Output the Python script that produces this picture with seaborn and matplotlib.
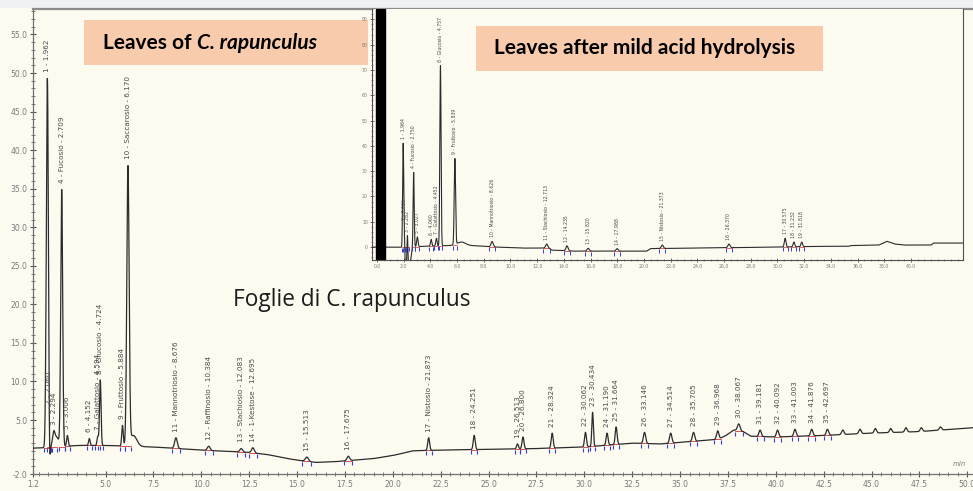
import numpy as np
import pandas as pd
import matplotlib
matplotlib.use("Agg")
import matplotlib.pyplot as plt
import seaborn as sns
from matplotlib.patches import Rectangle
from matplotlib.ticker import MultipleLocator

# ---------------- data ----------------
# Main chromatogram (Foglie di C. rapunculus)
main_rt = [1.962, 2.060, 2.294, 2.709, 3.006, 4.152, 4.594, 4.724, 5.884, 6.170,
           8.676, 10.384, 12.083, 12.695, 15.513, 17.675, 21.873, 24.251, 26.513, 26.800,
           28.324, 30.062, 30.434, 31.190, 31.664, 33.146, 34.514, 35.705, 36.968, 38.067,
           39.181, 40.092, 41.003, 41.876, 42.697]
main_apex = [49.3, 6.3, 3.6, 34.9, 3.0, 2.6, 2.9, 10.2, 4.3, 38.0,
             2.7, 1.6, 1.3, 1.4, 0.2, 0.3, 2.7, 3.0, 1.9, 2.8,
             3.3, 3.4, 6.0, 3.3, 4.1, 3.4, 3.3, 3.4, 3.6, 4.5,
             3.7, 3.7, 3.8, 3.8, 3.8]
main_sigma = [0.055, 0.040, 0.050, 0.050, 0.040, 0.040, 0.040, 0.040, 0.040, 0.060,
              0.070, 0.070, 0.070, 0.070, 0.080, 0.070, 0.050, 0.050, 0.050, 0.050,
              0.050, 0.050, 0.040, 0.050, 0.050, 0.060, 0.060, 0.060, 0.060, 0.070,
              0.060, 0.060, 0.060, 0.060, 0.060]
main_labels = ["1 - 1.962", "2 - 2.060", "3 - 2.294", "4 - Fucosio - 2.709", "5 - 3.006",
               "6 - 4.152", "7 - Galattosio - 4.594", "8 - Glucosio - 4.724",
               "9 - Fruttosio - 5.884", "10 - Saccarosio - 6.170",
               "11 - Mannotriosio - 8.676", "12 - Raffinosio - 10.384",
               "13 - Stachiosio - 12.083", "14 - 1-Kestose - 12.695", "15 - 15.513",
               "16 - 17.675", "17 - Nistosio - 21.873", "18 - 24.251", "19 - 26.513",
               "20 - 26.800", "21 - 28.324", "22 - 30.062", "23 - 30.434", "24 - 31.190",
               "25 - 31.664", "26 - 33.146", "27 - 34.514", "28 - 35.705", "29 - 36.968",
               "30 - 38.067", "31 - 39.181", "32 - 40.092", "33 - 41.003", "34 - 41.876",
               "35 - 42.697"]
# unlabeled tails / small bumps
main_extra_rt = [2.400, 6.450, 43.5, 44.4, 45.2, 46.0, 46.8, 47.6, 48.6]
main_extra_apex = [3.0, 3.0, 3.7, 3.8, 3.9, 3.9, 4.0, 4.0, 4.1]
main_extra_sigma = [0.15, 0.18, 0.06, 0.06, 0.06, 0.06, 0.06, 0.06, 0.06]
# baseline of the main trace
main_base_t = [1.2, 1.8, 3.5, 5.0, 7.5, 10.0, 12.5, 13.5, 14.5, 15.0, 16.0, 17.0, 18.0, 19.0,
               20.0, 20.9, 21.0, 22.5, 25.0, 27.5, 30.0, 32.5, 34.0, 35.0, 36.0, 37.0, 37.4,
               37.8, 38.3, 38.7, 40.0, 42.5, 45.0, 47.5, 50.3]
main_base_v = [1.35, 1.4, 1.7, 1.7, 1.5, 1.1, 0.8, 0.5, 0.0, -0.2, -0.5, -0.4, -0.2, 0.0,
               0.4, 0.9, 1.0, 1.1, 1.2, 1.3, 1.5, 2.0, 1.9, 2.1, 2.3, 2.5, 3.0,
               3.7, 3.5, 2.9, 2.8, 3.0, 3.3, 3.5, 4.0]
main_xticks = [1.2, 5.0, 7.5, 10.0, 12.5, 15.0, 17.5, 20.0, 22.5, 25.0, 27.5, 30.0, 32.5,
               35.0, 37.5, 40.0, 42.5, 45.0, 47.5, 50.0]
main_yticks = [-2.0, 5.0, 10.0, 15.0, 20.0, 25.0, 30.0, 35.0, 40.0, 45.0, 50.0, 55.0]

# Inset chromatogram (leaves after mild acid hydrolysis)
ins_rt = [1.964, 2.046, 2.282, 2.750, 3.027, 4.060, 4.452, 4.757, 5.839, 8.626,
          12.713, 14.235, 15.820, 17.988, 21.373, 26.370, 30.575, 31.232, 31.818]
ins_apex = [41.0, 9.0, 4.5, 29.5, 4.0, 3.0, 3.5, 71.7, 35.0, 2.2,
            1.2, 0.5, -0.5, -0.6, 0.8, 1.2, 3.5, 2.0, 2.0]
ins_sigma = [0.04, 0.04, 0.05, 0.04, 0.05, 0.05, 0.05, 0.045, 0.05, 0.08,
             0.08, 0.08, 0.08, 0.08, 0.08, 0.08, 0.06, 0.06, 0.06]
ins_labels = ["1 - 1.964", "2 - 2.046", "3 - 2.282", "4 - Fucosio - 2.750", "5 - 3.027",
              "6 - 4.060", "7 - Galattosio - 4.452", "8 - Glucosio - 4.757",
              "9 - Fruttosio - 5.839", "10 - Mannotriosio - 8.626",
              "11 - Stachiosio - 12.713", "12 - 14.235", "13 - 15.820", "14 - 17.988",
              "15 - Nistosio - 21.373", "16 - 26.370", "17 - 30.575", "18 - 31.232",
              "19 - 31.818"]
ins_extra_rt = [2.300, 6.300]
ins_extra_apex = [3.0, 2.0]
ins_extra_sigma = [0.15, 0.3]
ins_base_t = [-0.4, 1.8, 6.5, 9.0, 10.9, 12.9, 13.1, 14.8, 19.0, 20.2, 20.5, 30.0, 33.0,
              35.3, 35.5, 37.6, 38.2, 38.8, 39.5, 41.5, 41.7, 44.0]
ins_base_v = [0.0, 0.0, 0.8, 0.0, -0.4, -0.4, -1.2, -1.6, -1.6, -1.6, -0.6, 0.0, 0.3,
              0.3, 0.6, 0.8, 2.3, 1.2, 0.8, 0.8, 1.6, 1.6]
ins_solvent = (-0.07, 0.6)
ins_xticks = [0.0, 2.0, 4.0, 6.0, 8.0, 10.0, 12.0, 14.0, 16.0, 18.0, 20.0, 22.0, 24.0,
              26.0, 28.0, 30.0, 32.0, 34.0, 36.0, 38.0, 40.0]
ins_yticks = [0, 10, 20, 30, 40, 50, 60, 70, 80, 90]

title_main = "Foglie di C. rapunculus"
box1_parts = ["Leaves of ", "C. rapunculus"]
box2_text = "Leaves after mild acid hydrolysis"


# ---------------- helpers ----------------
def trace(grid, rts, apexes, sigmas, bt, bv):
    """Baseline through read knots + Gaussian peaks whose summed apex equals the read value."""
    rts = np.asarray(rts, float)
    sig = np.asarray(sigmas, float)
    target = np.asarray(apexes, float) - np.interp(rts, bt, bv)
    A = np.exp(-0.5 * ((rts[:, None] - rts[None, :]) / sig[None, :]) ** 2)
    amps = np.linalg.solve(A, target)
    y = np.interp(grid, bt, bv)
    for r, a, s in zip(rts, amps, sig):
        y = y + a * np.exp(-0.5 * ((grid - r) / s) ** 2)
    return y


BG = "#fdfaf0"
LINE = "#2b2b2b"
GREY = "#7a7a7a"
PEACH = "#f8cbad"

sns.set_style("white")
plt.rcParams["font.family"] = ["DejaVu Sans"]

W, H = 973, 491
fig = plt.figure(figsize=(W / 100, H / 100), dpi=100, facecolor=BG)


def fx(px):
    return px / W


def fy(py):
    return 1 - py / H


# ---------------- main axes ----------------
left_px, right_px, top_px, bot_px = 32.8, 973, 9, 474
ax = fig.add_axes([fx(left_px), fy(bot_px), fx(right_px - left_px), (bot_px - top_px) / H])
ax.set_facecolor(BG)

grid = np.arange(1.2, 50.3, 0.004)
sig = trace(grid, list(main_rt) + main_extra_rt, list(main_apex) + main_extra_apex,
            list(main_sigma) + main_extra_sigma, main_base_t, main_base_v)
df = pd.DataFrame({"t": grid, "signal": sig})
sns.lineplot(data=df, x="t", y="signal", ax=ax, color=LINE, linewidth=0.9,
             estimator=None, sort=False, zorder=3)

# integration marks
for r, s in zip(main_rt, main_sigma):
    b = np.interp(r, main_base_t, main_base_v)
    ax.plot([r - 3 * s, r + 3 * s], [b, b], color="#e05050", lw=0.7, zorder=2)
    ax.plot([r - 3 * s, r + 3 * s], [b - 0.35, b - 0.35], ls="none", marker="|",
            ms=3.5, color="#3340d0", mew=0.8, zorder=4)

for r, a, lab in zip(main_rt, main_apex, main_labels):
    ax.text(r, a + 0.8, lab, rotation=90, ha="center", va="bottom",
            fontsize=5.2, color="#4a4a4a", zorder=5)

ax.set_xlim(1.2, 50.3)
ax.set_ylim(-2.0, 58.3)
ax.set_xticks(main_xticks)
ax.set_xticklabels([f"{v:.1f}" for v in main_xticks])
ax.set_yticks(main_yticks)
ax.set_yticklabels([f"{v:.1f}" for v in main_yticks])
ax.xaxis.set_minor_locator(MultipleLocator(0.5))
ax.yaxis.set_minor_locator(MultipleLocator(1.0))
ax.tick_params(axis="both", which="major", labelsize=5.5, labelcolor=GREY,
               color="#555555", length=4, width=0.8, direction="inout", pad=2)
ax.tick_params(axis="both", which="minor", color="#666666", length=2.5, width=0.6,
               direction="inout")
ax.tick_params(axis="x", which="both", bottom=True)
ax.tick_params(axis="y", which="both", left=True)
ax.set_xlabel("")
ax.set_ylabel("")
ax.spines["right"].set_visible(False)
ax.spines["top"].set_color("#8c8c8c")
ax.spines["top"].set_linewidth(1.6)
for sp in ["left", "bottom"]:
    ax.spines[sp].set_color("#707070")
    ax.spines[sp].set_linewidth(0.9)
ax.text(0.993, 0.015, "min", transform=ax.transAxes, fontsize=5, color=GREY,
        style="italic", ha="right", va="bottom")

ax.text(fx(233), fy(300), title_main, transform=fig.transFigure, fontsize=16.3,
        family="Open Sans", color="#1c1c1c", ha="left", va="center")

# ---------------- inset axes ----------------
il, ir, it, ib = 372, 963, 9, 260
axi = fig.add_axes([fx(il), fy(ib), fx(ir - il), (ib - it) / H], zorder=5)
axi.set_facecolor(BG)
g2 = np.arange(-0.37, 43.9, 0.004)
s2 = trace(g2, list(ins_rt) + ins_extra_rt, list(ins_apex) + ins_extra_apex,
           list(ins_sigma) + ins_extra_sigma, ins_base_t, ins_base_v)
df2 = pd.DataFrame({"t": g2, "signal": s2})
sns.lineplot(data=df2, x="t", y="signal", ax=axi, color=LINE, linewidth=0.8,
             estimator=None, sort=False, zorder=3)
axi.axvspan(ins_solvent[0], ins_solvent[1], color="black", zorder=4)
for r, s in zip(ins_rt, ins_sigma):
    b = np.interp(r, ins_base_t, ins_base_v)
    axi.plot([r - 3 * s, r + 3 * s], [b, b], color="#e05050", lw=0.6, zorder=2)
    axi.plot([r - 3 * s, r + 3 * s], [b - 1.0, b - 1.0], ls="none", marker="|",
             ms=2.5, color="#3340d0", mew=0.7, zorder=4)
for r, a, lab in zip(ins_rt, ins_apex, ins_labels):
    axi.text(r, a + 1.6, lab, rotation=90, ha="center", va="bottom",
             fontsize=3.3, color="#4a4a4a", zorder=5)
axi.set_xlim(-0.37, 43.9)
axi.set_ylim(-5.1, 94.1)
axi.set_xticks(ins_xticks)
axi.set_xticklabels([f"{v:.1f}" for v in ins_xticks])
axi.set_yticks(ins_yticks)
axi.set_yticklabels([str(v) for v in ins_yticks])
axi.xaxis.set_minor_locator(MultipleLocator(0.5))
axi.yaxis.set_minor_locator(MultipleLocator(2))
axi.tick_params(axis="both", which="major", labelsize=3.3, labelcolor=GREY,
                color="#555555", length=3, width=0.6, direction="inout", pad=1.5)
axi.tick_params(axis="both", which="minor", color="#666666", length=1.8, width=0.5,
                direction="inout")
axi.tick_params(axis="x", which="both", bottom=True)
axi.tick_params(axis="y", which="both", left=True)
axi.set_xlabel("")
axi.set_ylabel("")
axi.spines["top"].set_visible(False)
for sp in ["left", "bottom", "right"]:
    axi.spines[sp].set_color("#505050")
    axi.spines[sp].set_linewidth(0.8)

# ---------------- title boxes ----------------
fig.add_artist(Rectangle((fx(0), fy(8)), 1, 8 / H, transform=fig.transFigure,
                         facecolor="#eef0f2", edgecolor="none", zorder=0))
fig.add_artist(Rectangle((fx(84), fy(65)), fx(368 - 84), 45 / H, transform=fig.transFigure,
                         facecolor=PEACH, edgecolor="none", zorder=4))
t1 = fig.text(fx(103), fy(43), box1_parts[0], fontsize=15, fontweight="bold",
              family="Lato", color="black", ha="left", va="center", zorder=6)
fig.canvas.draw()
bb = t1.get_window_extent()
fig.text(bb.x1 / fig.dpi / fig.get_figwidth(), fy(43), box1_parts[1], fontsize=15,
         fontweight="bold", style="italic", family="Lato", color="black",
         ha="left", va="center", zorder=6)

fig.add_artist(Rectangle((fx(476), fy(71)), fx(823 - 476), 45 / H, transform=fig.transFigure,
                         facecolor=PEACH, edgecolor="none", zorder=10))
fig.text(fx(494), fy(48), box2_text, fontsize=15, fontweight="bold", family="Lato",
         color="black", ha="left", va="center", zorder=11)

fig.savefig("out.png", dpi=100, facecolor=BG)
